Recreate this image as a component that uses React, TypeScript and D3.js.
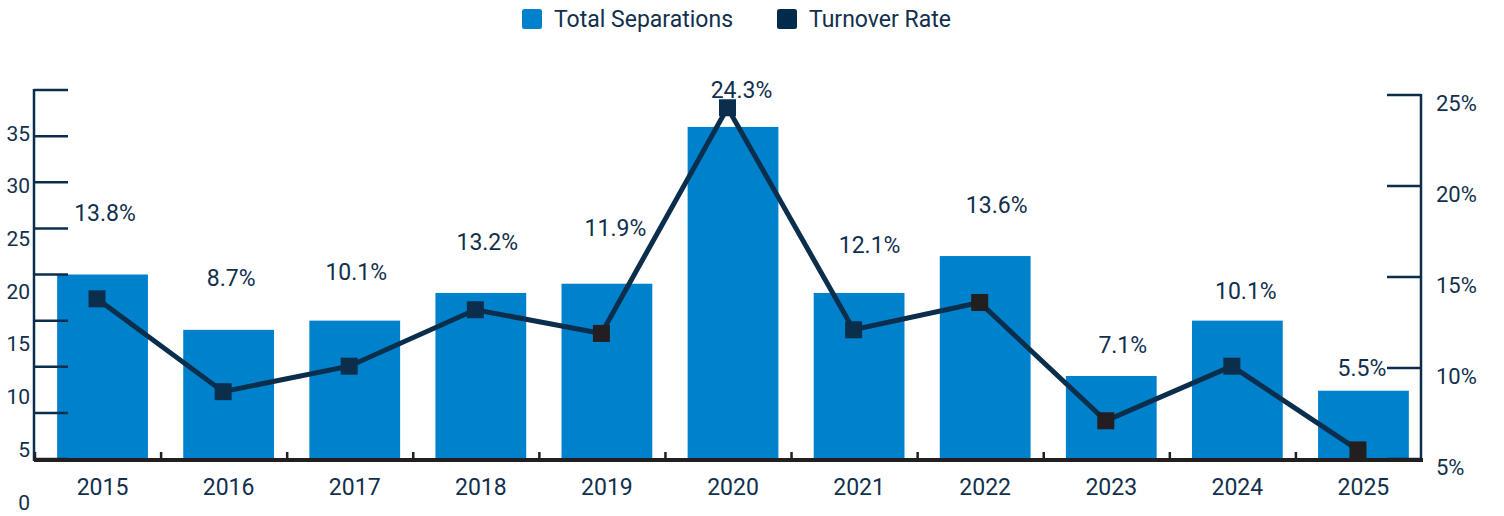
import React, { useEffect, useRef } from 'react';
import * as d3 from 'd3';

const years = ['2015', '2016', '2017', '2018', '2019', '2020', '2021', '2022', '2023', '2024', '2025'];
const separations = [20, 14, 15, 18, 19, 36, 18, 22, 9, 15, 7.4];
const turnoverRate = [13.8, 8.7, 10.1, 13.2, 11.9, 24.3, 12.1, 13.6, 7.1, 10.1, 5.5];
const leftTicks = [0, 5, 10, 15, 20, 25, 30, 35, 40];
const leftLabels = [0, 5, 10, 15, 20, 25, 30, 35];
const rightTicks = [5, 10, 15, 20, 25];

// hand placed label nudges (dx, dy) relative to each marker, as in the original artwork
const labelNudge = [
  [8, -86], [8, -114], [7, -94], [12, -68], [14, -106], [14, -18],
  [16, -85], [17, -98], [17, -76], [14, -75], [4, -82],
];
// some markers were drawn in near black in the original
const darkMarkers = ['2019', '2022', '2023', '2025'];

const W = 1504;
const H = 516;
const FONT = 'Roboto, "Noto Sans", sans-serif';
const BLUE = '#0081cb';
const NAVY = '#0b2e4c';
const TEXT = '#12304d';
const BLACK = '#231f20';

export default function App() {
  const svgRef = useRef(null);

  useEffect(() => {
    const svg = d3.select(svgRef.current);
    svg.selectAll('*').remove();

    const left = 34;
    const right = 1421;
    const base = 459;

    const x = d3.scaleBand().domain(years).range([left, right]).padding(0);
    const bw = x.bandwidth();
    const barW = bw * 0.72;
    const barShift = (bw - barW) / 2 + 5.5;

    const yL = d3.scaleLinear().domain([0, 40]).range([base, 90]);
    const yR = d3.scaleLinear().domain([5, 25]).range([base, 95]);
    // the tick labels on the left sit on their own spacing in the original
    const yLabel = d3.scaleLinear().domain([0, 35]).range([502, 133]);

    // Bars
    svg.append('g')
      .selectAll('rect')
      .data(separations)
      .join('rect')
      .attr('x', (d, i) => x(years[i]) + barShift)
      .attr('y', (d) => yL(d))
      .attr('width', barW)
      .attr('height', (d) => base - yL(d))
      .attr('fill', BLUE);

    // Left axis
    const la = svg.append('g');
    la.append('line')
      .attr('x1', left).attr('x2', left)
      .attr('y1', yL(40) - 1).attr('y2', base + 2)
      .attr('stroke', NAVY).attr('stroke-width', 2.5);
    la.selectAll('.tk')
      .data(leftTicks)
      .join('line')
      .attr('x1', left).attr('x2', left + 34)
      .attr('y1', (d) => yL(d)).attr('y2', (d) => yL(d))
      .attr('stroke', NAVY).attr('stroke-width', 2.5);
    la.selectAll('text')
      .data(leftLabels)
      .join('text')
      .attr('x', 30)
      .attr('y', (d) => yLabel(d))
      .attr('dy', '0.36em')
      .attr('text-anchor', 'end')
      .attr('font-family', FONT)
      .attr('font-size', 21)
      .attr('fill', TEXT)
      .text((d) => d);

    // Right axis
    const ra = svg.append('g');
    ra.append('line')
      .attr('x1', right).attr('x2', right)
      .attr('y1', yR(25) - 1).attr('y2', base + 2)
      .attr('stroke', NAVY).attr('stroke-width', 2.5);
    ra.selectAll('line.tk')
      .data(rightTicks)
      .join('line')
      .attr('x1', right - 34).attr('x2', right)
      .attr('y1', (d) => yR(d)).attr('y2', (d) => yR(d))
      .attr('stroke', NAVY).attr('stroke-width', 2.5);
    ra.selectAll('text')
      .data(rightTicks)
      .join('text')
      .attr('x', 1436)
      .attr('y', (d) => yR(d) + 8)
      .attr('dy', '0.36em')
      .attr('font-family', FONT)
      .attr('font-size', 22)
      .attr('fill', TEXT)
      .text((d) => d + '%');

    // Baseline and small ticks
    svg.append('line')
      .attr('x1', left).attr('x2', right + 2)
      .attr('y1', base + 1).attr('y2', base + 1)
      .attr('stroke', BLACK).attr('stroke-width', 4);
    svg.append('g')
      .selectAll('line')
      .data(years)
      .join('line')
      .attr('x1', (d) => x(d) + 1).attr('x2', (d) => x(d) + 1)
      .attr('y1', base - 7).attr('y2', base)
      .attr('stroke', BLACK).attr('stroke-width', 2.5);

    // Year labels
    svg.append('g')
      .selectAll('text')
      .data(years)
      .join('text')
      .attr('x', (d) => x(d) + barShift + barW / 2)
      .attr('y', 487)
      .attr('dy', '0.36em')
      .attr('text-anchor', 'middle')
      .attr('font-family', FONT)
      .attr('font-size', 23)
      .attr('fill', TEXT)
      .text((d) => d);

    // Turnover line
    const cx = (i) => x(years[i]) + bw / 2;
    const line = d3.line()
      .x((d, i) => cx(i))
      .y((d) => yR(d));
    svg.append('path')
      .datum(turnoverRate)
      .attr('d', line)
      .attr('fill', 'none')
      .attr('stroke', NAVY)
      .attr('stroke-width', 5)
      .attr('stroke-linejoin', 'miter');

    const ms = 17;
    svg.append('g')
      .selectAll('rect')
      .data(turnoverRate)
      .join('rect')
      .attr('x', (d, i) => cx(i) - ms / 2)
      .attr('y', (d) => yR(d) - ms / 2)
      .attr('width', ms)
      .attr('height', ms)
      .attr('fill', (d, i) => (darkMarkers.includes(years[i]) ? BLACK : NAVY));

    // Rate labels
    svg.append('g')
      .selectAll('text')
      .data(turnoverRate)
      .join('text')
      .attr('x', (d, i) => cx(i) + labelNudge[i][0])
      .attr('y', (d, i) => yR(d) + labelNudge[i][1])
      .attr('dy', '0.36em')
      .attr('text-anchor', 'middle')
      .attr('font-family', FONT)
      .attr('font-size', 23)
      .attr('fill', TEXT)
      .text((d) => d.toFixed(1) + '%');

    // Legend
    const legend = [
      { name: 'Total Separations', color: BLUE, x: 522 },
      { name: 'Turnover Rate', color: '#002b4d', x: 777 },
    ];
    const lg = svg.append('g');
    lg.selectAll('rect')
      .data(legend)
      .join('rect')
      .attr('x', (d) => d.x)
      .attr('y', 9)
      .attr('width', 20)
      .attr('height', 20)
      .attr('rx', 2.5)
      .attr('fill', (d) => d.color);
    lg.selectAll('text')
      .data(legend)
      .join('text')
      .attr('x', (d) => d.x + 32)
      .attr('y', 19)
      .attr('dy', '0.36em')
      .attr('font-family', FONT)
      .attr('font-size', 23)
      .attr('fill', TEXT)
      .text((d) => d.name);
  }, []);

  return (
    <svg
      ref={svgRef}
      width={W}
      height={H}
      style={{ position: 'absolute', left: 0, top: 0, display: 'block', background: '#fff' }}
    />
  );
}
